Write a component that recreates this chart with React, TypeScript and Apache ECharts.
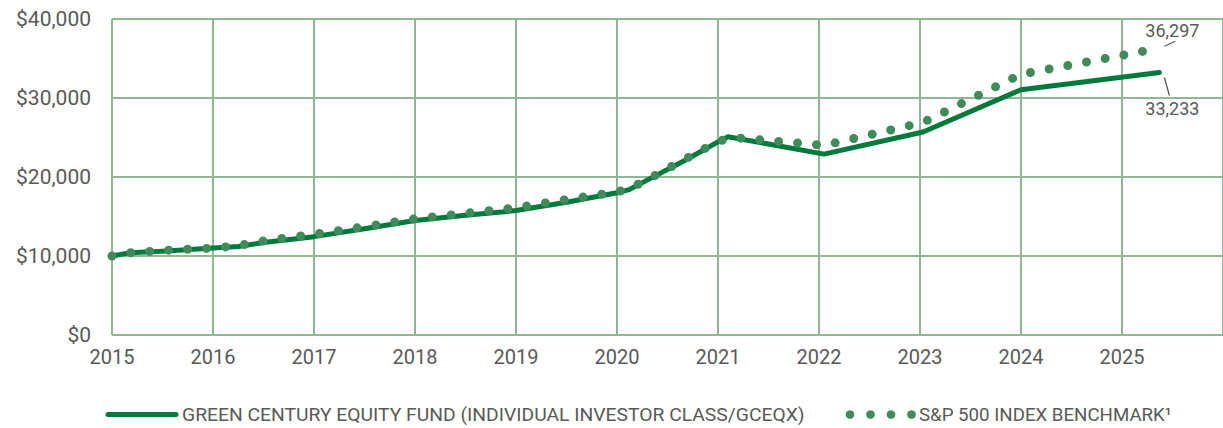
import React, { useEffect, useRef } from 'react';
import * as echarts from 'echarts';

// ---- data ----
const fundYears = [2015, 2015.17, 2015.5, 2016, 2016.25, 2016.5, 2017, 2017.5, 2018, 2018.5, 2019, 2019.5, 2020, 2020.12, 2020.35, 2020.68, 2021, 2021.1, 2022.05, 2023.03, 2024, 2025.37];
const fundValues = [10000, 10400, 10600, 11000, 11200, 11700, 12450, 13450, 14500, 15150, 15750, 16800, 18000, 18400, 19950, 22150, 24450, 25100, 22900, 25700, 31050, 33233];

const spYears = [2015, 2015.17, 2015.5, 2016, 2016.25, 2016.5, 2017, 2017.5, 2018, 2018.5, 2019, 2019.5, 2020, 2020.12, 2020.35, 2020.68, 2021, 2021.15, 2022.05, 2023.03, 2024, 2025.37];
const spValues = [10000, 10400, 10700, 11000, 11300, 11900, 12750, 13700, 14700, 15400, 16100, 17150, 18100, 18500, 20000, 22300, 24500, 25000, 24000, 26900, 33000, 36297];

const xTickStart = 2015;
const xTickEnd = 2026;
const yTickMax = 40000;
const yTickStep = 10000;

const FUND_NAME = 'GREEN CENTURY EQUITY FUND (INDIVIDUAL INVESTOR CLASS/GCEQX)';
const SP_NAME = 'S&P 500 INDEX BENCHMARK\u00B9';

// ---- styles ----
const FONT = 'Roboto, "Noto Sans", sans-serif';
const TEXT = '#595959';
const GRID = '#8db893';
const FUND_COLOR = '#007a3b';
const SP_COLOR = '#3f8c5b';

function measure(text: string, font: string): number {
  const c = document.createElement('canvas').getContext('2d');
  if (!c) return 0;
  c.font = font;
  return c.measureText(text).width;
}

const fmt = (v: number) => v.toLocaleString('en-US');

export default function App() {
  const ref = useRef<HTMLDivElement>(null);

  useEffect(() => {
    if (!ref.current) return;
    const chart = echarts.init(ref.current, null, { renderer: 'svg' });
    chart.setOption({
      animation: false,
      grid: { left: 112, right: -2, top: 19, bottom: 93, containLabel: false },
      xAxis: {
        type: 'value',
        min: xTickStart,
        max: xTickEnd,
        interval: 1,
        axisLine: { show: false },
        axisTick: { show: false },
        splitLine: { show: true, lineStyle: { color: GRID, width: 2 } },
        axisLabel: {
          showMaxLabel: false,
          color: TEXT,
          fontFamily: FONT,
          fontSize: 20,
          margin: 12,
          formatter: (v: number) => String(Math.round(v)),
        },
      },
      yAxis: {
        type: 'value',
        min: 0,
        max: yTickMax,
        interval: yTickStep,
        axisLine: { show: false },
        axisTick: { show: false },
        splitLine: { show: true, lineStyle: { color: GRID, width: 2 } },
        axisLabel: {
          color: TEXT,
          fontFamily: FONT,
          fontSize: 21,
          margin: 21,
          formatter: (v: number) => '$' + fmt(v),
        },
      },
      series: [
        {
          name: FUND_NAME,
          type: 'line',
          data: fundYears.map((x, i) => [x, fundValues[i]]),
          showSymbol: false,
          lineStyle: { color: FUND_COLOR, width: 5, cap: 'round', join: 'round' },
          z: 2,
        },
        {
          name: SP_NAME,
          type: 'line',
          data: spYears.map((x, i) => [x, spValues[i]]),
          showSymbol: false,
          lineStyle: { color: SP_COLOR, width: 9, type: [0, 19], cap: 'round', join: 'round' },
          z: 3,
        },
      ],
    });

    const fEnd = chart.convertToPixel({ gridIndex: 0 }, [fundYears[fundYears.length - 1], fundValues[fundValues.length - 1]]) as number[];
    const sEnd = chart.convertToPixel({ gridIndex: 0 }, [spYears[spYears.length - 1], spValues[spValues.length - 1]]) as number[];

    const legendFont = `19px ${FONT}`;
    const fundW = measure(FUND_NAME, legendFont) || 623;
    const spW = measure(SP_NAME, legendFont) || 253;
    const fundScale = 623 / fundW;
    const spScale = 253 / spW;

    const legendY = 414.5;
    chart.setOption({
      graphic: [
        // end labels
        { type: 'line', shape: { x1: sEnd[0] + 5, y1: sEnd[1] - 2, x2: sEnd[0] + 16, y2: sEnd[1] - 7 }, style: { stroke: TEXT, lineWidth: 1.3 } },
        { type: 'text', x: sEnd[0] + 13, y: sEnd[1] - 18, style: { text: fmt(spValues[spValues.length - 1]), font: `18px ${FONT}`, fill: TEXT, align: 'center', verticalAlign: 'middle' } },
        { type: 'line', shape: { x1: fEnd[0] + 5, y1: fEnd[1] + 5, x2: fEnd[0] + 10, y2: fEnd[1] + 23 }, style: { stroke: TEXT, lineWidth: 1.3 } },
        { type: 'text', x: fEnd[0] + 13, y: fEnd[1] + 36, style: { text: fmt(fundValues[fundValues.length - 1]), font: `18px ${FONT}`, fill: TEXT, align: 'center', verticalAlign: 'middle' } },
        // legend
        { type: 'line', shape: { x1: 108, y1: legendY, x2: 176, y2: legendY }, style: { stroke: FUND_COLOR, lineWidth: 5, lineCap: 'round' } },
        { type: 'text', x: 182, y: legendY, scaleX: fundScale, style: { text: FUND_NAME, font: legendFont, fill: TEXT, verticalAlign: 'middle' } },
        ...[0, 1, 2, 3].map((i) => ({ type: 'circle', shape: { cx: 850 + i * 20.5, cy: legendY, r: 4.3 }, style: { fill: SP_COLOR } })),
        { type: 'text', x: 919, y: legendY, scaleX: spScale, style: { text: SP_NAME, font: legendFont, fill: TEXT, verticalAlign: 'middle' } },
      ],
    });

    return () => chart.dispose();
  }, []);

  return <div ref={ref} style={{ position: 'absolute', left: 0, top: 0, width: 1223, height: 428 }} />;
}
